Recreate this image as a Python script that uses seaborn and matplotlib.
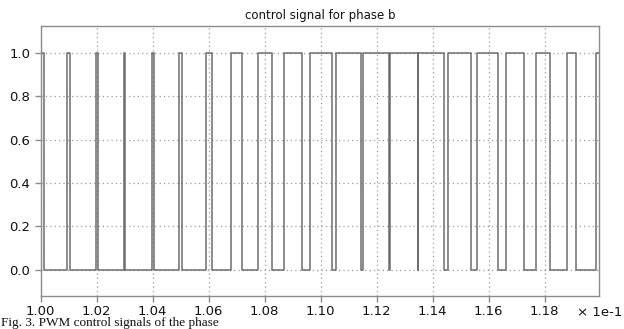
import numpy as np
import pandas as pd
import matplotlib
matplotlib.use("Agg")
import matplotlib.pyplot as plt
import seaborn as sns

# PWM pulse edges, in seconds (axis shown in units of 1e-1 s)
t_start = 0.1000
t_end = 0.11995
initial_level = 1
first_fall = 0.10011
rise_times = [0.10093, 0.10198, 0.10298, 0.10398, 0.10493, 0.10589, 0.10681,
              0.10775, 0.10868, 0.10963, 0.11055, 0.11152, 0.11248, 0.11349,
              0.11454, 0.11557, 0.11663, 0.11770, 0.11879, 0.11984]
fall_times = [0.10106, 0.10204, 0.10302, 0.10404, 0.10506, 0.10612, 0.10719,
              0.10826, 0.10932, 0.11039, 0.11144, 0.11245, 0.11346, 0.11441,
              0.11537, 0.11632, 0.11727, 0.11820, 0.11913]

x_ticks = [0.100, 0.102, 0.104, 0.106, 0.108, 0.110, 0.112, 0.114, 0.116, 0.118]
x_tick_labels = ["1.00", "1.02", "1.04", "1.06", "1.08", "1.10", "1.12", "1.14", "1.16", "1.18"]
y_ticks = [0.0, 0.2, 0.4, 0.6, 0.8, 1.0]
y_tick_labels = ["0.0", "0.2", "0.4", "0.6", "0.8", "1.0"]

title = "control signal for phase b"
caption = "Fig. 3. PWM control signals of the phase"

# build the step signal (steps-post)
times = [t_start, first_fall]
levels = [initial_level, 0]
for i, r in enumerate(rise_times):
    times.append(r); levels.append(1)
    if i < len(fall_times):
        times.append(fall_times[i]); levels.append(0)
times.append(t_end); levels.append(levels[-1])
df = pd.DataFrame({"t": times, "u": levels})

sns.set_theme(style="white")
plt.rcParams["font.family"] = ["DejaVu Sans"]

W, H = 624, 329
ax_left, ax_right, ax_top, ax_bottom = 40.7, 599.3, 26.0, 296.0
fig = plt.figure(figsize=(W / 100, H / 100), dpi=100)
ax = fig.add_axes([ax_left / W, 1 - ax_bottom / H,
                   (ax_right - ax_left) / W, (ax_bottom - ax_top) / H])

sns.lineplot(data=df, x="t", y="u", estimator=None, sort=False,
             drawstyle="steps-post", color="#6e6e6e", linewidth=1.1, ax=ax)

ax.set_xlim(0.1, 0.11995)
ax.set_ylim(-0.121, 1.124)
ax.set_xticks(x_ticks)
ax.set_xticklabels(x_tick_labels)
ax.set_yticks(y_ticks)
ax.set_yticklabels(y_tick_labels)
ax.set_xlabel("")
ax.set_ylabel("")

ax.grid(True, linestyle=(0, (1, 2.5)), color="#9a9a9a", linewidth=0.9)
for s in ax.spines.values():
    s.set_color("#8c8c8c")
    s.set_linewidth(1.0)
ax.tick_params(axis="both", which="both", direction="out", length=4.5,
               width=1.0, color="#8c8c8c", labelsize=9.5, labelcolor="#111111",
               bottom=True, left=True, pad=3)
ax.tick_params(axis="x", pad=2)

ax.set_title(title, fontsize=8.5, color="#111111", pad=5)
fig.text(0.998, 1 - (ax_bottom + 16) / H, "\u00d7 1e-1", ha="right", va="center",
         fontsize=9.5, color="#111111")
fig.text(0.002, 0.0, caption, ha="left", va="bottom",
         family=["Liberation Serif"], fontsize=9.5, color="#111111")

fig.savefig("out.png", dpi=100)
